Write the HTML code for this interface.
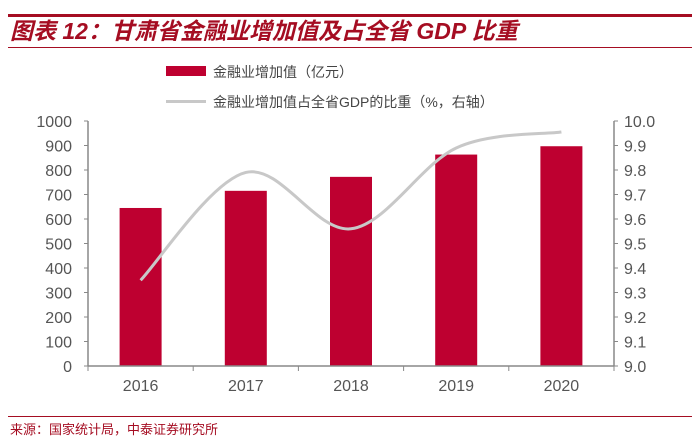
<!DOCTYPE html>
<html><head><meta charset="utf-8"><style>
body{margin:0;background:#fff;width:700px;height:440px;overflow:hidden;font-family:"Liberation Sans","Noto Sans CJK SC",sans-serif}
</style></head><body>
<svg width="700" height="440" xmlns="http://www.w3.org/2000/svg">
<rect x="8" y="14" width="684" height="3" fill="#a50d22"/>
<text x="10" y="39" font-size="23" font-weight="bold" font-style="italic" fill="#a50d22" font-family="Liberation Sans,Noto Sans CJK SC,sans-serif">图表 12：甘肃省金融业增加值及占全省 GDP 比重</text>
<rect x="8" y="47" width="684" height="1" fill="#a50d22"/>
<g>
<rect x="166" y="66" width="40" height="10" fill="#be0030"/>
<text x="213" y="77" font-size="14" fill="#444">金融业增加值（亿元）</text>
<rect x="166" y="100" width="40" height="3" fill="#c8c8c8"/>
<text x="213" y="107" font-size="14" fill="#444">金融业增加值占全省GDP的比重（%，右轴）</text>
</g>
<g id="plot"></g>
<rect x="8" y="416" width="684" height="1" fill="#a50d22"/>
<text x="10" y="434" font-size="13" fill="#a50d22">来源：国家统计局，中泰证券研究所</text>
</svg>
<script>
const categories=["2016","2017","2018","2019","2020"];
const barValues=[645,715,772,863,897];
const lineValues=[9.35,9.79,9.56,9.89,9.955];
const leftTicks=[0,100,200,300,400,500,600,700,800,900,1000];
const rightTicks=[9.0,9.1,9.2,9.3,9.4,9.5,9.6,9.7,9.8,9.9,10.0];
const NS="http://www.w3.org/2000/svg";
const g=document.getElementById('plot');
const X0=88,X1=614,Y0=366,Y1=121;
const band=(X1-X0)/categories.length;
const xc=i=>X0+band*(i+0.5);
const yl=v=>Y0-(v-0)/(1000-0)*(Y0-Y1);
const yr=v=>Y0-(v-9)/(10-9)*(Y0-Y1);
function mk(t,a){const e=document.createElementNS(NS,t);for(const k in a)e.setAttribute(k,a[k]);g.appendChild(e);return e;}
barValues.forEach((v,i)=>{const r=mk('rect',{x:xc(i)-21,y:yl(v),width:42,height:Y0-yl(v),fill:'#be0030'});

});
const pts=lineValues.map((v,i)=>[xc(i),yr(v)]);
let d='M'+pts[0][0]+','+pts[0][1];
for(let i=0;i<pts.length-1;i++){const p0=pts[Math.max(0,i-1)],p1=pts[i],p2=pts[i+1],p3=pts[Math.min(pts.length-1,i+2)];
const c1=[p1[0]+(p2[0]-p0[0])/6,p1[1]+(p2[1]-p0[1])/6],c2=[p2[0]-(p3[0]-p1[0])/6,p2[1]-(p3[1]-p1[1])/6];
d+=` C${c1[0]},${c1[1]} ${c2[0]},${c2[1]} ${p2[0]},${p2[1]}`;}
const ln=mk('path',{d:d,fill:'none',stroke:'#c8c8c8','stroke-width':3});


const la=mk('line',{x1:X0,y1:Y1,x2:X0,y2:Y0,stroke:'#888','stroke-width':1.5});


const ra=mk('line',{x1:X1,y1:Y1,x2:X1,y2:Y0,stroke:'#888','stroke-width':1.5});


const xa=mk('line',{x1:X0,y1:Y0,x2:X1,y2:Y0,stroke:'#888','stroke-width':1.5});


leftTicks.forEach(v=>{mk('line',{x1:X0-4,y1:yl(v),x2:X0,y2:yl(v),stroke:'#888'});
const t=mk('text',{x:X0-16,y:yl(v)+6,'font-size':16,'text-anchor':'end',fill:'#555'});t.textContent=v;

});
rightTicks.forEach(v=>{mk('line',{x1:X1,y1:yr(v),x2:X1+4,y2:yr(v),stroke:'#888'});
const t=mk('text',{x:X1+10,y:yr(v)+6,'font-size':16,fill:'#555'});t.textContent=v.toFixed(1);

});
for(let i=0;i<=categories.length;i++)mk('line',{x1:X0+band*i,y1:Y0,x2:X0+band*i,y2:Y0+5,stroke:'#888'});
categories.forEach((c,i)=>{const t=mk('text',{x:xc(i),y:391,'font-size':16,'text-anchor':'middle',fill:'#555'});t.textContent=c;

});
</script>
</body></html>
